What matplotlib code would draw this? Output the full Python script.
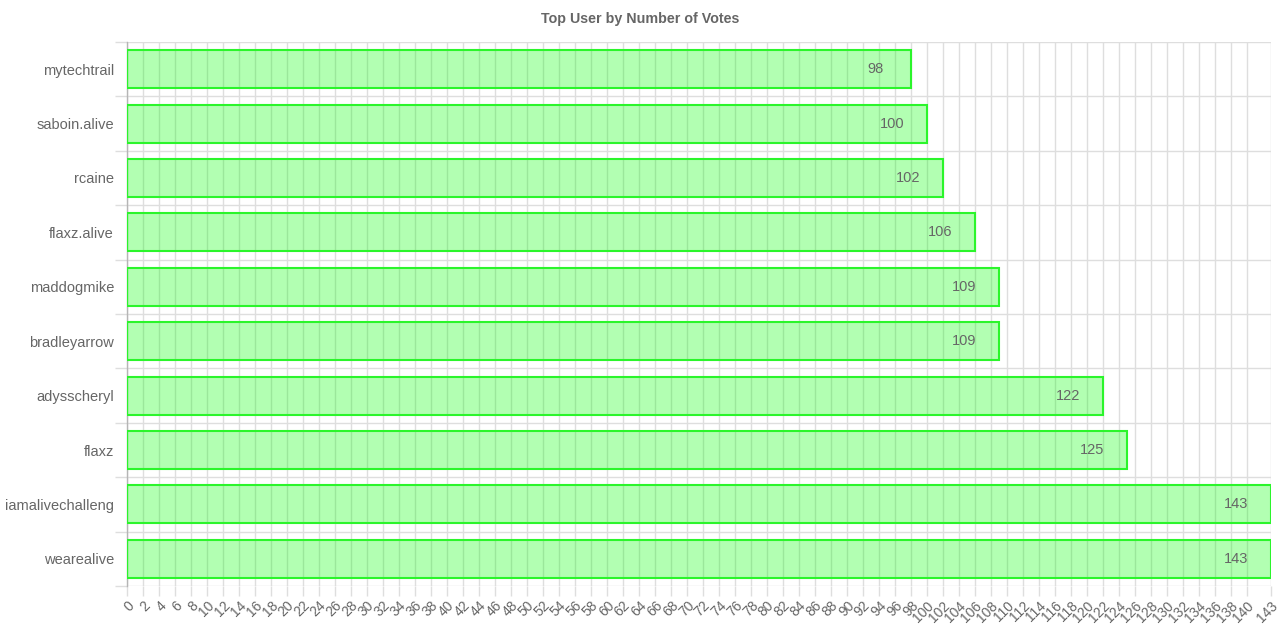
import numpy as np
import matplotlib
matplotlib.use("Agg")
import matplotlib.pyplot as plt
from matplotlib import transforms

plt.rcParams['font.family'] = ['Liberation Sans', 'DejaVu Sans']

users = ['mytechtrail', 'saboin.alive', 'rcaine', 'flaxz.alive', 'maddogmike',
         'bradleyarrow', 'adysscheryl', 'flaxz', 'iamalivechalleng', 'wearealive']
votes = [98, 100, 102, 106, 109, 109, 122, 125, 143, 143]
x_ticks = list(range(0, 141, 2)) + [143]

GRID = '#dedede'
TEXT = '#666666'

fig = plt.figure(figsize=(12.8, 6.39), dpi=100)
ax = fig.add_axes([127 / 1280, 1 - 586 / 639, 1144 / 1280, 544 / 639])

pos = np.arange(len(users))
ax.barh(pos, votes, height=0.7, color=(0, 1, 0, 0.3), edgecolor='#2bf52b',
        linewidth=1.5, zorder=3)

# value labels, centred a fixed distance inside the bar end
off = transforms.offset_copy(ax.transData, fig=fig, x=-35 / 100 * 72, y=0, units='points')
for p, v in zip(pos, votes):
    ax.text(v, p, str(v), transform=off, ha='center', va='center',
            fontsize=10.5, color=TEXT, zorder=4)

ax.set_xlim(0, 143)
ax.set_ylim(len(users) - 0.5, -0.5)

ax.set_yticks(pos)
ax.set_yticklabels(users, fontsize=10.5, color=TEXT)
ax.tick_params(axis='y', which='major', length=0, pad=9.4)
ax.set_yticks(np.arange(len(users) + 1) - 0.5, minor=True)
ax.tick_params(axis='y', which='minor', length=9, color=GRID, width=1)

ax.set_xticks(x_ticks)
ax.set_xticklabels([str(t) for t in x_ticks], fontsize=10, color=TEXT,
                   rotation=45, ha='right', va='top', rotation_mode='anchor')
ax.tick_params(axis='x', length=7, color=GRID, width=1, pad=2)

ax.grid(axis='x', which='major', color=GRID, linewidth=1, zorder=0)
ax.grid(axis='y', which='minor', color=GRID, linewidth=1, zorder=0)
ax.set_axisbelow(True)

for s in ['top', 'right', 'bottom']:
    ax.spines[s].set_visible(False)
ax.spines['left'].set_color('#b5b5b5')
ax.spines['left'].set_linewidth(1)

fig.text(0.5, 1 - 19 / 639, 'Top User by Number of Votes', ha='center', va='center',
         fontsize=10.3, fontweight='bold', color=TEXT)

fig.savefig('out.png', dpi=100)
